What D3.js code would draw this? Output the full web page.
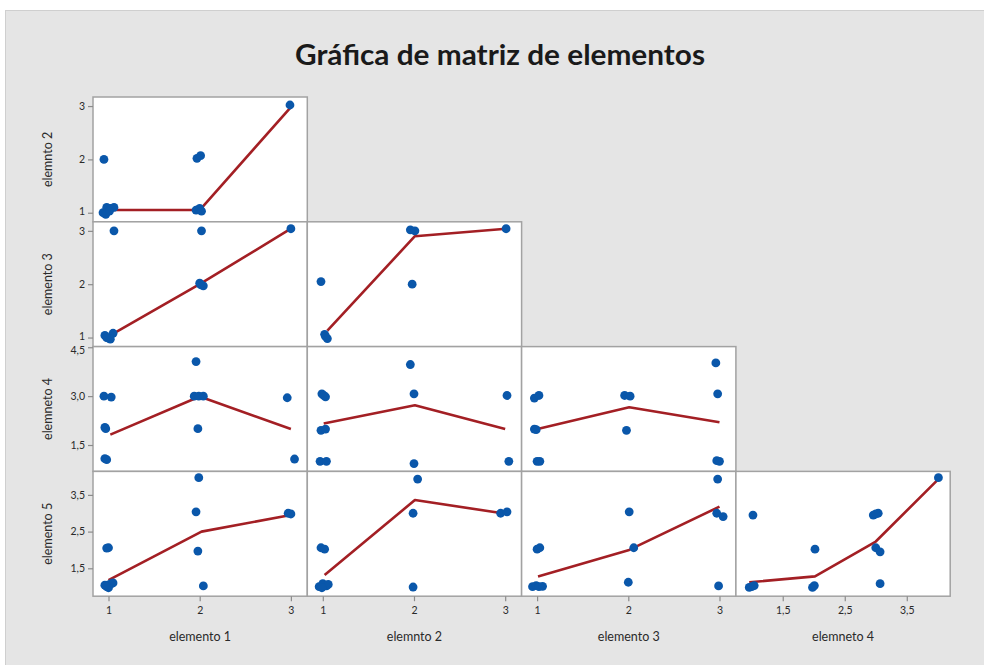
<!DOCTYPE html>
<html>
<head>
<meta charset="utf-8">
<script src="https://cdn.jsdelivr.net/npm/d3@7"></script>
<style>
  body { margin: 0; background: #ffffff; }
  svg { display: block; }
  text { font-family: Lato, "Open Sans", "Noto Sans", sans-serif; }
</style>
</head>
<body>
<svg id="chart" width="984" height="665"></svg>
<script>
// ---- data ----
const title = "Gráfica de matriz de elementos";
const variables = ["elemento 1", "elemnto 2", "elemento 3", "elemneto 4", "elemento 5"];

// value ranges shown on each column (x) and each row (y)
const xDomains = [[0.83, 3.18], [0.83, 3.18], [0.83, 3.18], [0.745, 4.2]];
const yDomains = [[0.83, 3.17], [0.83, 3.17], [0.69, 4.52], [0.74, 4.14]];

const xTicks = [[1, 2, 3], [1, 2, 3], [1, 2, 3], [1.5, 2.5, 3.5]];
const xTickLabels = [["1", "2", "3"], ["1", "2", "3"], ["1", "2", "3"], ["1,5", "2,5", "3,5"]];
const yTicks = [[1, 2, 3], [1, 2, 3], [1.5, 3.0, 4.5], [1.5, 2.5, 3.5]];
const yTickLabels = [["1", "2", "3"], ["1", "2", "3"], ["1,5", "3,0", "4,5"], ["1,5", "2,5", "3,5"]];

// observations (jittered) for each pair: [x, y]
const pts_e2_e1 = [[0.95, 2.0], [0.94, 1.0], [0.98, 1.1], [1.02, 1.08], [1.06, 1.1], [0.97, 0.97], [1.01, 1.03],
  [1.96, 1.05], [2.0, 1.08], [2.02, 1.03], [1.97, 2.02], [2.01, 2.07], [2.99, 3.02]];
const pts_e3_e1 = [[1.06, 3.0], [2.02, 3.0], [3.0, 3.04], [2.0, 2.02], [2.04, 1.97], [2.01, 1.99],
  [0.96, 1.04], [1.0, 0.99], [1.05, 1.08], [1.02, 0.97], [0.98, 1.0]];
const pts_e3_e2 = [[0.98, 2.05], [1.02, 1.06], [1.05, 0.98], [1.03, 1.02], [1.96, 3.02], [2.01, 3.0],
  [1.98, 2.0], [3.01, 3.04]];
const pts_e4_e1 = [[0.95, 3.0], [1.03, 2.97], [0.96, 2.04], [0.97, 2.0], [0.96, 1.08], [0.98, 1.05],
  [1.96, 4.06], [1.94, 3.0], [1.99, 3.0], [2.04, 3.0], [1.98, 2.0], [2.96, 2.95], [3.04, 1.07]];
const pts_e4_e2 = [[0.99, 3.07], [1.03, 2.98], [1.01, 3.02], [0.98, 1.95], [1.03, 1.99], [0.97, 1.0], [1.04, 1.0],
  [1.96, 3.97], [2.0, 3.07], [2.0, 0.93], [3.02, 3.02], [3.04, 1.0]];
const pts_e4_e3 = [[0.97, 2.94], [1.02, 3.02], [0.97, 1.99], [0.99, 1.97], [1.0, 1.0], [1.03, 1.0],
  [1.96, 3.02], [2.02, 3.0], [1.98, 1.95], [2.96, 4.02], [2.98, 3.07], [2.97, 1.02], [3.0, 1.0]];
const pts_e5_e1 = [[1.0, 2.06], [0.98, 2.05], [1.0, 1.05], [1.03, 1.08], [0.98, 1.0], [1.05, 1.1], [1.0, 0.97],
  [0.96, 1.04], [1.99, 3.97], [1.96, 3.04], [1.98, 1.97], [2.04, 1.02], [2.97, 3.0], [3.0, 2.98]];
const pts_e5_e2 = [[0.98, 2.06], [1.02, 2.02], [0.96, 1.0], [1.0, 1.08], [1.04, 1.02], [1.06, 1.06], [0.99, 0.97],
  [2.04, 3.93], [1.99, 3.0], [1.99, 0.99], [2.95, 3.0], [3.02, 3.04]];
const pts_e5_e3 = [[1.0, 2.02], [1.03, 2.06], [0.95, 1.0], [0.99, 1.03], [1.02, 1.0], [1.06, 1.01],
  [2.01, 3.04], [2.06, 2.06], [2.0, 1.12], [2.98, 3.93], [2.97, 3.0], [3.04, 2.91], [2.99, 1.02]];
const pts_e5_e4 = [[1.02, 2.95], [0.96, 0.98], [1.0, 1.0], [1.04, 1.03], [2.02, 2.02], [1.98, 0.98], [2.01, 1.03],
  [2.96, 2.95], [3.04, 3.0], [3.0, 2.98], [3.0, 2.06], [3.07, 1.95], [3.07, 1.08], [4.01, 3.97]];

// smoother through each pair
const fit_e2_e1 = [[0.98, 1.05], [2.0, 1.05], [3.0, 2.98]];
const fit_e3_e1 = [[1.0, 1.02], [2.0, 2.0], [3.0, 3.04]];
const fit_e3_e2 = [[1.05, 1.13], [2.01, 2.9], [3.01, 3.04]];
const fit_e4_e1 = [[1.02, 1.82], [2.0, 2.99], [3.0, 1.99]];
const fit_e4_e2 = [[1.01, 2.16], [2.01, 2.72], [3.0, 1.99]];
const fit_e4_e3 = [[0.97, 1.97], [2.01, 2.66], [3.0, 2.2]];
const fit_e5_e1 = [[1.0, 1.18], [2.02, 2.5], [3.0, 2.95]];
const fit_e5_e2 = [[1.02, 1.32], [2.01, 3.36], [2.97, 3.0]];
const fit_e5_e3 = [[1.01, 1.28], [2.01, 2.0], [3.0, 3.18]];
const fit_e5_e4 = [[0.96, 1.12], [2.02, 1.28], [3.0, 2.23], [4.01, 3.93]];

// lower-triangle cells: row r (y = variable r+1), column c (x = variable c)
const cells = [
  { r: 0, c: 0, pts: pts_e2_e1, fit: fit_e2_e1 },
  { r: 1, c: 0, pts: pts_e3_e1, fit: fit_e3_e1 },
  { r: 1, c: 1, pts: pts_e3_e2, fit: fit_e3_e2 },
  { r: 2, c: 0, pts: pts_e4_e1, fit: fit_e4_e1 },
  { r: 2, c: 1, pts: pts_e4_e2, fit: fit_e4_e2 },
  { r: 2, c: 2, pts: pts_e4_e3, fit: fit_e4_e3 },
  { r: 3, c: 0, pts: pts_e5_e1, fit: fit_e5_e1 },
  { r: 3, c: 1, pts: pts_e5_e2, fit: fit_e5_e2 },
  { r: 3, c: 2, pts: pts_e5_e3, fit: fit_e5_e3 },
  { r: 3, c: 3, pts: pts_e5_e4, fit: fit_e5_e4 }
];

// ---- layout ----
const svg = d3.select("#chart");
const gridLeft = 93, gridTop = 97, cellW = 214.3, cellH = 124.8;
const nRows = 4;
const dotColor = "#0a57aa", lineColor = "#a31f24", frameColor = "#a2a2a2";

// grey page frame
svg.append("rect").attr("x", 5.5).attr("y", 10.5).attr("width", 990).attr("height", 670)
  .attr("fill", "#e5e5e5").attr("stroke", "#cfcfcf");

svg.append("text").attr("x", 500).attr("y", 65).attr("text-anchor", "middle")
  .attr("font-size", 29).attr("font-weight", 700).attr("fill", "#1a1a1a")
  .attr("textLength", 410).attr("lengthAdjust", "spacingAndGlyphs")
  .text(title);

const xScales = xDomains.map((d, c) => d3.scaleLinear().domain(d).range([gridLeft + c * cellW, gridLeft + (c + 1) * cellW]));
const yScales = yDomains.map((d, r) => d3.scaleLinear().domain(d).range([gridTop + (r + 1) * cellH, gridTop + r * cellH]));

// cell backgrounds and frames
svg.append("g").selectAll("rect").data(cells).join("rect")
  .attr("x", d => xScales[d.c].range()[0])
  .attr("y", d => yScales[d.r].range()[1])
  .attr("width", cellW).attr("height", cellH)
  .attr("fill", "#ffffff").attr("stroke", frameColor).attr("stroke-width", 1.5);

const line = d3.line();
cells.forEach(cell => {
  const xs = xScales[cell.c], ys = yScales[cell.r];
  const g = svg.append("g");
  g.append("path")
    .attr("d", line(cell.fit.map(p => [xs(p[0]), ys(p[1])])))
    .attr("fill", "none").attr("stroke", lineColor).attr("stroke-width", 2.6)
    .attr("stroke-linejoin", "round");
  g.selectAll("circle").data(cell.pts).join("circle")
    .attr("cx", p => xs(p[0])).attr("cy", p => ys(p[1])).attr("r", 4.4)
    .attr("fill", dotColor);
});

// axes: y on the first column, x on the bottom row
function styleAxis(g) {
  g.select(".domain").remove();
  g.selectAll(".tick line").attr("stroke", "#8c8c8c").attr("stroke-width", 1.2);
  g.selectAll(".tick text").attr("fill", "#2a2a2a").attr("font-size", 10.5)
    .attr("font-family", "Lato, 'Open Sans', sans-serif");
}
yScales.forEach((ys, r) => {
  const ax = svg.append("g").attr("transform", `translate(${gridLeft},0)`)
    .call(d3.axisLeft(ys).tickValues(yTicks[r]).tickSize(5).tickPadding(3)
      .tickFormat((v, i) => yTickLabels[r][i]))
    .call(styleAxis);
  // keep the label at a cell's top edge clear of the row above
  ax.selectAll(".tick text").filter(v => ys(v) - ys.range()[1] < 4).attr("dy", "0.62em");
  ax.selectAll(".tick text").filter(v => ys.range()[0] - ys(v) < 12).attr("dy", "0.2em");
  svg.append("text")
    .attr("transform", `translate(52,${gridTop + (r + 0.5) * cellH}) rotate(-90)`)
    .attr("text-anchor", "middle").attr("font-size", 12.5).attr("fill", "#2a2a2a")
    .text(variables[r + 1]);
});
xScales.forEach((xs, c) => {
  svg.append("g").attr("transform", `translate(0,${gridTop + nRows * cellH})`)
    .call(d3.axisBottom(xs).tickValues(xTicks[c]).tickSize(5).tickPadding(5)
      .tickFormat((v, i) => xTickLabels[c][i]))
    .call(styleAxis);
  svg.append("text")
    .attr("x", gridLeft + (c + 0.5) * cellW).attr("y", 641)
    .attr("text-anchor", "middle").attr("font-size", 12.5).attr("fill", "#2a2a2a")
    .text(variables[c]);
});
</script>
</body>
</html>
